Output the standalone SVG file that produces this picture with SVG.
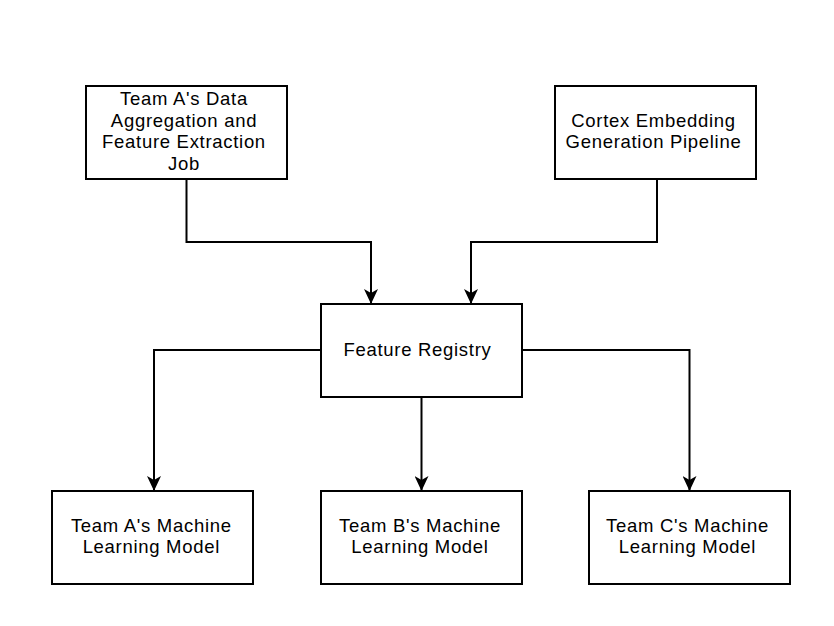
<svg xmlns="http://www.w3.org/2000/svg" width="834" height="626" viewBox="0 0 834 626">
  <style>
    .box { fill: #ffffff; stroke: #000000; stroke-width: 2; }
    .lbl { font-family: "Liberation Sans", Arial, sans-serif; font-size: 18.5px; fill: #000000; text-anchor: middle; letter-spacing: 0.7px; }
    .edge { fill: none; stroke: #000000; stroke-width: 2; marker-end: url(#arrow); }
  </style>
  <defs>
    <marker id="arrow" markerUnits="userSpaceOnUse" viewBox="0 0 15 14" markerWidth="15" markerHeight="14" refX="15" refY="7" orient="auto">
      <path d="M0,0 L15,7 L0,14 L4,7 Z" fill="#000000"/>
    </marker>
  </defs>
  <rect width="834" height="626" fill="#ffffff"/>

  <g id="connectors">
    <path class="edge" d="M186.5,179 V242 H371 V304"/>
    <path class="edge" d="M657,179 V242 H471 V304"/>
    <path class="edge" d="M321,350 H154 V491"/>
    <path class="edge" d="M421.5,397 V491"/>
    <path class="edge" d="M522,350 H689.5 V491"/>
  </g>

  <g id="team-a-job">
    <rect class="box" x="86" y="86" width="201" height="93"/>
    <text class="lbl" x="184" y="105.2">Team A's Data</text>
    <text class="lbl" x="184" y="126.8">Aggregation and</text>
    <text class="lbl" x="184" y="148.4">Feature Extraction</text>
    <text class="lbl" x="184" y="170">Job</text>
  </g>

  <g id="cortex-pipeline">
    <rect class="box" x="555" y="86" width="201" height="93"/>
    <text class="lbl" x="653.5" y="126.8">Cortex Embedding</text>
    <text class="lbl" x="653.5" y="148.4">Generation Pipeline</text>
  </g>

  <g id="feature-registry">
    <rect class="box" x="321" y="304" width="201" height="93"/>
    <text class="lbl" x="417.5" y="356.3">Feature Registry</text>
  </g>

  <g id="team-a-model">
    <rect class="box" x="52" y="491" width="201" height="93"/>
    <text class="lbl" x="151.3" y="531.5">Team A's Machine</text>
    <text class="lbl" x="151.3" y="553.2">Learning Model</text>
  </g>

  <g id="team-b-model">
    <rect class="box" x="321" y="491" width="201" height="93"/>
    <text class="lbl" x="420" y="531.5">Team B's Machine</text>
    <text class="lbl" x="420" y="553.2">Learning Model</text>
  </g>

  <g id="team-c-model">
    <rect class="box" x="589" y="491" width="201" height="93"/>
    <text class="lbl" x="687.5" y="531.5">Team C's Machine</text>
    <text class="lbl" x="687.5" y="553.2">Learning Model</text>
  </g>
</svg>
